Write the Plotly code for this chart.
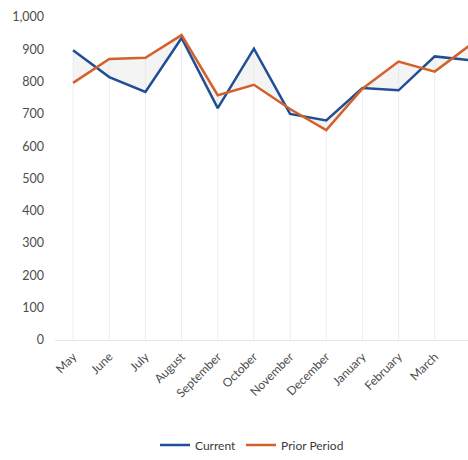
import plotly.graph_objects as go

months = ["May", "June", "July", "August", "September", "October", "November",
          "December", "January", "February", "March", "April"]
current = [897, 814, 768, 935, 718, 902, 700, 680, 780, 773, 878, 866]
prior = [796, 870, 874, 944, 758, 790, 715, 650, 778, 862, 831, 915]
y_ticks = [0, 100, 200, 300, 400, 500, 600, 700, 800, 900, 1000]

BLUE = "#1f4e96"
ORANGE = "#d2612c"
FONT = "Lato, Open Sans, sans-serif"

fig = go.Figure()

# drop lines from the higher value down to the axis
dx, dy = [], []
for m, c, p in zip(months, current, prior):
    dx += [m, m, None]
    dy += [0, max(c, p), None]
fig.add_trace(go.Scatter(x=dx, y=dy, mode="lines", line=dict(color="#ececec", width=1),
                         showlegend=False, hoverinfo="skip"))

# light fill between the two series
fig.add_trace(go.Scatter(x=months, y=current, mode="lines", line=dict(width=0),
                         showlegend=False, hoverinfo="skip"))
fig.add_trace(go.Scatter(x=months, y=prior, mode="lines", line=dict(width=0),
                         fill="tonexty", fillcolor="rgba(230,230,230,0.45)",
                         showlegend=False, hoverinfo="skip"))

fig.add_trace(go.Scatter(x=months, y=current, mode="lines", name="Current",
                         line=dict(color=BLUE, width=2.5)))
fig.add_trace(go.Scatter(x=months, y=prior, mode="lines", name="Prior Period",
                         line=dict(color=ORANGE, width=2.5)))

fig.update_layout(
    width=468, height=460,
    margin=dict(l=55, r=0, t=17, b=118),
    paper_bgcolor="white", plot_bgcolor="white",
    font=dict(family=FONT, size=12, color="#4d4d4d"),
    legend=dict(orientation="h", x=0.477, xanchor="center", y=-0.28, yanchor="top",
                traceorder="normal",
                font=dict(size=12, color="#3a3a3a"), itemwidth=30),
    xaxis=dict(type="category", categoryorder="array", categoryarray=months,
               range=[-0.5, 10.92], tickangle=-45, showgrid=False,
               showline=True, linecolor="#e6e6e6", linewidth=1, ticks="",
               ticklabelstandoff=4,
               tickfont=dict(size=12, color="#4d4d4d")),
    yaxis=dict(range=[0, 1000], tickvals=y_ticks, tickformat=",", showgrid=False,
               zeroline=False, showline=False, ticks="", ticklabelstandoff=10,
               tickfont=dict(size=12.5, color="#4d4d4d")),
)

fig.write_html("out.html")
